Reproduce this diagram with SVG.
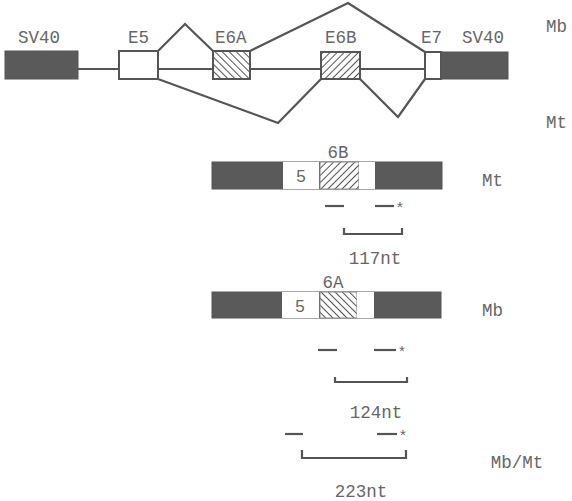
<svg xmlns="http://www.w3.org/2000/svg" width="572" height="501" viewBox="0 0 572 501">
<style>
.t{font-family:"Liberation Mono","Courier New",monospace;font-size:17.5px;fill:#666}
.s{font-family:"Liberation Sans",Arial,sans-serif;font-size:17px;fill:#666}
.st{font-family:"Liberation Sans",Arial,sans-serif;font-size:15px;fill:#666}
.dark{fill:#5a5a5a;stroke:#555;stroke-width:1}
.wb{fill:#fff;stroke:#555;stroke-width:2}
.ln{fill:none;stroke:#555;stroke-width:2.2;stroke-linejoin:miter}
.pr{fill:none;stroke:#555;stroke-width:2.2}
</style>
<defs>
<pattern id="hb" width="5" height="5" patternUnits="userSpaceOnUse" patternTransform="rotate(-45)">
<rect width="5" height="5" fill="#fff"/><line x1="0" y1="0" x2="0" y2="5" stroke="#555" stroke-width="2"/>
</pattern>
<pattern id="hf" width="5" height="5" patternUnits="userSpaceOnUse" patternTransform="rotate(45)">
<rect width="5" height="5" fill="#fff"/><line x1="0" y1="0" x2="0" y2="5" stroke="#555" stroke-width="2"/>
</pattern>
</defs>
<g id="connectors">
<line class="ln" x1="78" y1="69" x2="119" y2="69"/>
<line class="ln" x1="158" y1="69" x2="213" y2="69"/>
<line class="ln" x1="250" y1="69" x2="321" y2="69"/>
<line class="ln" x1="360" y1="69" x2="425" y2="69"/>
<polyline class="ln" points="158,51 185,24 213,51"/>
<polyline class="ln" points="250,51 348,3 425,52"/>
<polyline class="ln" points="158,79 278,123 321,79"/>
<polyline class="ln" points="360,79 398,117 425,79"/>
</g>
<g id="sv40-left"><rect class="dark" x="5" y="51" width="73" height="28"/><text class="t" x="18" y="43">SV40</text></g>
<g id="e5"><rect class="wb" x="119" y="51" width="39" height="28"/><text class="t" x="128" y="43">E5</text></g>
<g id="e6a"><rect x="213" y="51" width="37" height="28" fill="url(#hb)" stroke="#555" stroke-width="2"/><text class="t" x="215" y="43">E6A</text></g>
<g id="e6b"><rect x="321" y="52" width="39" height="27" fill="url(#hf)" stroke="#555" stroke-width="2"/><text class="t" x="325" y="43">E6B</text></g>
<g id="e7"><rect class="wb" x="425" y="52" width="16" height="27"/><text class="t" x="421" y="43">E7</text></g>
<g id="sv40-right"><rect class="dark" x="441" y="52" width="67" height="27"/><text class="t" x="462" y="43">SV40</text></g>
<g id="label-mb"><text class="t" x="546" y="32">Mb</text></g>
<g id="label-mt"><text class="t" x="546" y="128">Mt</text></g>

<g id="mt-construct">
<rect class="dark" x="212" y="162" width="230" height="27"/>
<rect x="283" y="162" width="36" height="27" fill="#fff"/>
<text class="s" x="301" y="182" text-anchor="middle">5</text>
<rect x="320" y="162" width="39" height="27" fill="url(#hf)" stroke="#888" stroke-width="1"/>
<rect x="359" y="162" width="16" height="27" fill="#fff"/>
<text class="t" x="338" y="158" text-anchor="middle">6B</text>
<text class="t" x="482" y="186">Mt</text>
</g>
<g id="mt-primers">
<line class="pr" x1="325" y1="206" x2="344" y2="206"/>
<line class="pr" x1="375" y1="206" x2="394" y2="206"/>
<text class="st" x="397" y="212">*</text>
<polyline class="pr" points="344,228 344,234 402,234 402,228"/>
<text class="t" x="375" y="264" text-anchor="middle">117nt</text>
</g>

<g id="mb-construct">
<rect class="dark" x="212" y="292" width="229" height="26"/>
<rect x="282" y="292" width="37" height="26" fill="#fff"/>
<text class="s" x="300" y="312" text-anchor="middle">5</text>
<rect x="320" y="292" width="37" height="26" fill="url(#hb)" stroke="#888" stroke-width="1"/>
<rect x="357" y="292" width="17" height="26" fill="#fff"/>
<text class="t" x="333" y="288" text-anchor="middle">6A</text>
<text class="t" x="482" y="316">Mb</text>
</g>
<g id="mb-primers">
<line class="pr" x1="318" y1="350" x2="337" y2="350"/>
<line class="pr" x1="374" y1="350" x2="396" y2="350"/>
<text class="st" x="399" y="356">*</text>
<polyline class="pr" points="335,377 335,382 407,382 407,377"/>
<text class="t" x="376" y="418" text-anchor="middle">124nt</text>
</g>

<g id="mbmt-primers">
<line class="pr" x1="285" y1="434" x2="303" y2="434"/>
<line class="pr" x1="377" y1="434" x2="397" y2="434"/>
<text class="st" x="400" y="440">*</text>
<polyline class="pr" points="302,450 302,458 406,458 406,450"/>
<text class="t" x="517" y="468" text-anchor="middle">Mb/Mt</text>
<text class="t" x="361" y="497" text-anchor="middle">223nt</text>
</g>
</svg>
